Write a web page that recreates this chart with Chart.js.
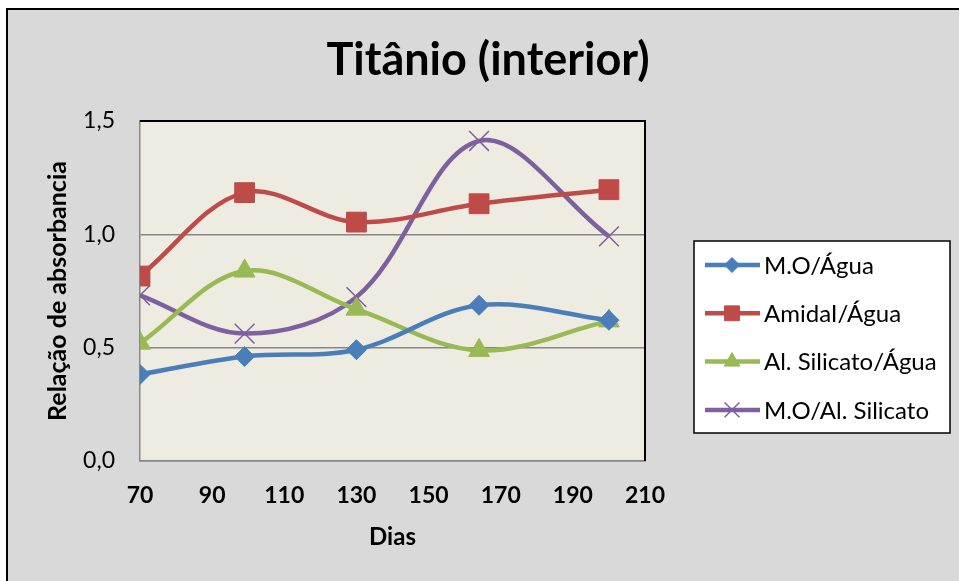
<!DOCTYPE html>
<html>
<head>
<meta charset="utf-8">
<title>Titânio (interior)</title>
<script src="https://cdn.jsdelivr.net/npm/chart.js@4.4.1/dist/chart.umd.min.js"></script>
<style>
  html, body { margin: 0; padding: 0; background: #ffffff; }
  #wrap { width: 959px; height: 581px; }
</style>
</head>
<body>
<div id="wrap"><canvas id="grafico" width="959" height="581"></canvas></div>
<script>
// dados
var titulo = 'Titânio (interior)';
var dias = [70, 99, 130, 164, 200];
var moAgua = [0.382, 0.461, 0.491, 0.687, 0.621];
var amidalAgua = [0.816, 1.184, 1.054, 1.135, 1.197];
var silicatoAgua = [0.520, 0.838, 0.670, 0.488, 0.618];
var moSilicato = [0.731, 0.562, 0.723, 1.412, 0.991];
var ticksY = [0, 0.5, 1.0, 1.5];
var ticksX = [70, 90, 110, 130, 150, 170, 190, 210];

var fonte = 'Lato, "Open Sans", sans-serif';

function pontos(valores) {
  return dias.map(function (d, i) { return { x: d, y: valores[i] }; });
}

function serie(label, valores, cor, estilo, raio, borda) {
  return {
    label: label,
    data: pontos(valores),
    borderColor: cor,
    backgroundColor: cor,
    borderWidth: 4.5,
    tension: 0.35,
    pointStyle: estilo,
    pointRadius: raio,
    pointHoverRadius: raio,
    pointBackgroundColor: cor,
    pointBorderColor: cor,
    pointBorderWidth: borda
  };
}

// fundo cinza, moldura e area do grafico
var fundo = {
  id: 'fundo',
  beforeDraw: function (chart) {
    var ctx = chart.ctx, a = chart.chartArea;
    ctx.save();
    ctx.fillStyle = '#ffffff';
    ctx.fillRect(0, 0, chart.width, chart.height);
    ctx.fillStyle = '#d9d9d9';
    ctx.fillRect(7, 9, chart.width - 7, chart.height - 9);
    ctx.strokeStyle = '#000000';
    ctx.lineWidth = 2;
    ctx.beginPath();
    ctx.moveTo(7, chart.height);
    ctx.lineTo(7, 9);
    ctx.lineTo(chart.width, 9);
    ctx.stroke();
    ctx.fillStyle = '#eeece1';
    ctx.fillRect(a.left, a.top, a.right - a.left, a.bottom - a.top);
    ctx.restore();
  },
  afterDraw: function (chart) {
    var ctx = chart.ctx, a = chart.chartArea;
    ctx.save();
    // borda superior e direita
    ctx.strokeStyle = '#000000';
    ctx.lineWidth = 2;
    ctx.beginPath();
    ctx.moveTo(a.left, a.top);
    ctx.lineTo(a.right, a.top);
    ctx.lineTo(a.right, a.bottom);
    ctx.stroke();
    // titulo
    ctx.fillStyle = '#000000';
    ctx.font = 'bold 45px ' + fonte;
    ctx.textAlign = 'center';
    ctx.textBaseline = 'middle';
    ctx.fillText(titulo, 488, 60);
    ctx.restore();
  }
};

// legenda com linha + marcador
var legenda = {
  id: 'legenda',
  afterDraw: function (chart) {
    var ctx = chart.ctx;
    var bx = 694, by = 241, bw = 256, bh = 192;
    ctx.save();
    ctx.fillStyle = '#ffffff';
    ctx.fillRect(bx, by, bw, bh);
    ctx.strokeStyle = '#000000';
    ctx.lineWidth = 1.5;
    ctx.strokeRect(bx, by, bw, bh);
    chart.data.datasets.forEach(function (ds, i) {
      var y = 265 + i * 48.3;
      ctx.strokeStyle = ds.borderColor;
      ctx.lineWidth = 4.5;
      ctx.beginPath();
      ctx.moveTo(705, y);
      ctx.lineTo(760, y);
      ctx.stroke();
      ctx.fillStyle = ds.borderColor;
      ctx.lineWidth = ds.pointBorderWidth;
      Chart.helpers.drawPoint(ctx, {
        pointStyle: ds.pointStyle,
        radius: ds.pointRadius * 0.75,
        rotation: 0,
        borderWidth: ds.pointBorderWidth
      }, 732, y);
      ctx.fillStyle = '#000000';
      ctx.font = '24px ' + fonte;
      ctx.textAlign = 'left';
      ctx.textBaseline = 'middle';
      ctx.fillText(ds.label, 764, y + 1);
    });
    ctx.restore();
  }
};

new Chart(document.getElementById('grafico'), {
  type: 'line',
  data: {
    datasets: [
      serie('M.O/Água', moAgua, '#4a7ebb', 'rectRot', 10, 1),
      serie('AmidaI/Água', amidalAgua, '#be4b48', 'rect', 14, 1),
      serie('Al. Silicato/Água', silicatoAgua, '#98b954', 'triangle', 12, 1),
      serie('M.O/Al. Silicato', moSilicato, '#7d60a0', 'crossRot', 14, 1.5)
    ]
  },
  options: {
    responsive: false,
    animation: false,
    layout: { padding: { top: 121, right: 314, bottom: 0, left: 0 } },
    plugins: {
      legend: { display: false },
      title: { display: false },
      tooltip: { enabled: false }
    },
    scales: {
      x: {
        type: 'linear',
        min: 70,
        max: 210,
        afterFit: function (s) { s.height = 120; },
        afterBuildTicks: function (s) { s.ticks = ticksX.map(function (v) { return { value: v }; }); },
        grid: { display: false, drawTicks: false },
        border: { display: true, color: '#868686', width: 1.5 },
        ticks: {
          padding: 21,
          color: '#000000',
          font: { family: fonte, size: 23, weight: 'bold' }
        },
        title: {
          display: true,
          text: 'Dias',
          color: '#000000',
          font: { family: fonte, size: 24, weight: 'bold' },
          padding: { top: 0, bottom: 29 }
        }
      },
      y: {
        min: 0,
        max: 1.5,
        afterFit: function (s) { s.width = 140; },
        afterBuildTicks: function (s) { s.ticks = ticksY.map(function (v) { return { value: v }; }); },
        grid: {
          drawTicks: false,
          lineWidth: 1.5,
          color: function (c) { return c.tick && c.tick.value === 1.5 ? '#000000' : '#868686'; }
        },
        border: { display: true, color: '#868686', width: 1.5 },
        ticks: {
          padding: 25,
          color: '#000000',
          font: { family: fonte, size: 23 },
          callback: function (v) { return v.toFixed(1).replace('.', ','); }
        },
        title: {
          display: true,
          text: 'Relação de absorbancia',
          color: '#000000',
          font: { family: fonte, size: 25, weight: 'bold' },
          padding: { top: 43, bottom: 0 }
        }
      }
    }
  },
  plugins: [fundo, legenda]
});
</script>
</body>
</html>
